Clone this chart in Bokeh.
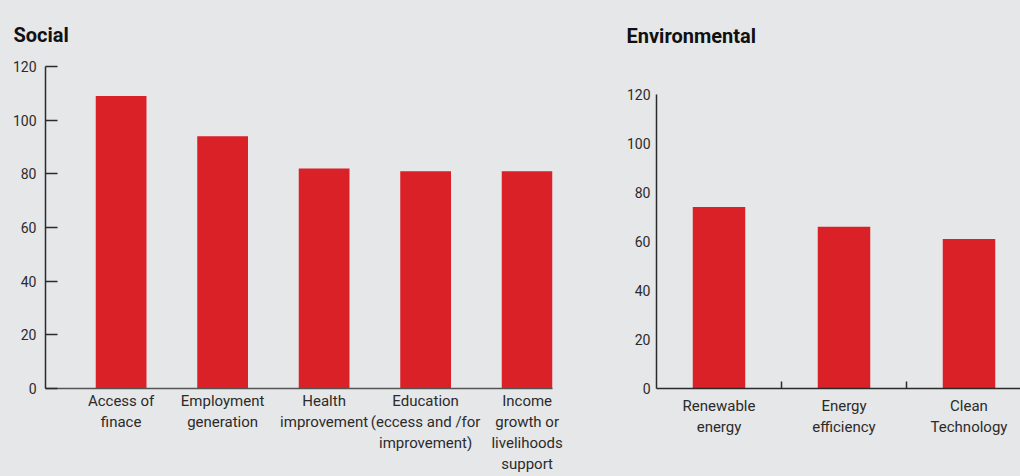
from bokeh.plotting import figure
from bokeh.models import FixedTicker, Range1d, Title
from bokeh.layouts import row
from bokeh.embed import file_html
from bokeh.resources import INLINE

BG = "#e6e7e9"
RED = "#da2128"
INK = "#2b2b2b"
FONT = "Roboto"

social_categories = ["Access of\nfinace", "Employment\ngeneration", "Health\nimprovement",
                     "Education\n(eccess and /for\nimprovement)", "Income\ngrowth or\nlivelihoods\nsupport"]
social_values = [109, 94, 82, 81, 81]

env_categories = ["Renewable\nenergy", "Energy\nefficiency", "Clean\nTechnology"]
env_values = [74, 66, 61]

y_ticks = [0, 20, 40, 60, 80, 100, 120]


def base_fig(width, left, right, xr, yend, title, offset, standoff):
    p = figure(width=width, height=476, output_backend="svg", toolbar_location=None,
               x_range=Range1d(*xr), y_range=Range1d(0, yend),
               min_border_left=left, min_border_right=right,
               min_border_top=65, min_border_bottom=87)
    p.background_fill_color = BG
    p.border_fill_color = BG
    p.outline_line_color = None
    p.grid.visible = False
    p.title = Title(text=title, align="left", offset=offset, standoff=standoff,
                    vertical_align="bottom", text_line_height=0.3,
                    text_font=FONT, text_font_size="20px", text_font_style="bold",
                    text_color="#111111")
    for ax in (p.xaxis[0], p.yaxis[0]):
        ax.axis_line_color = INK
        ax.axis_line_width = 1.5
        ax.major_label_text_font = FONT
        ax.major_label_text_font_size = "14px"
        ax.major_label_text_color = INK
        ax.major_tick_line_color = INK
        ax.major_tick_line_width = 1.5
        ax.minor_tick_line_color = INK
        ax.minor_tick_line_width = 1.5
        ax.minor_tick_in = 0
        ax.minor_tick_out = 0
    p.xaxis.major_label_text_font_size = "15px"
    p.xaxis.major_label_text_line_height = 1.18
    p.yaxis.bounds = (0, 120)
    p.yaxis.ticker = FixedTicker(ticks=y_ticks, minor_ticks=[])
    return p


# Social
xs = list(range(len(social_values)))
p1 = base_fig(600, 45, 48, (-0.745, 4.25), 120, "Social", -32, 40)
p1.vbar(x=xs, top=social_values, width=0.5, color=RED, line_color=None)
p1.yaxis.major_tick_in = 12
p1.yaxis.major_tick_out = 0
p1.yaxis.major_label_standoff = 9
p1.xaxis.ticker = FixedTicker(ticks=xs, minor_ticks=[])
p1.xaxis.major_label_overrides = {i: c for i, c in enumerate(social_categories)}
p1.xaxis.major_tick_in = 0
p1.xaxis.major_tick_out = 0
p1.xaxis.major_label_standoff = 3
p1.xaxis.axis_line_color = "#555555"

# Environmental
xe = list(range(len(env_values)))
p2 = base_fig(420, 56, 0, (-0.5, 2.412), 131.35, "Environmental", -30, 38)
p2.vbar(x=xe, top=env_values, width=0.42, color=RED, line_color=None)
p2.yaxis.major_tick_in = 0
p2.yaxis.major_tick_out = 0
p2.yaxis.major_label_standoff = 6
p2.xaxis.ticker = FixedTicker(ticks=xe, minor_ticks=[x + 0.5 for x in xe[:-1]])
p2.xaxis.major_label_overrides = {i: c for i, c in enumerate(env_categories)}
p2.xaxis.major_tick_in = 0
p2.xaxis.major_tick_out = 0
p2.xaxis.minor_tick_in = 7
p2.xaxis.minor_tick_out = 0
p2.xaxis.major_label_standoff = 8

layout = row(p1, p2)
layout.styles = {"background-color": BG}
open("out.html", "w").write(file_html(layout, INLINE))
